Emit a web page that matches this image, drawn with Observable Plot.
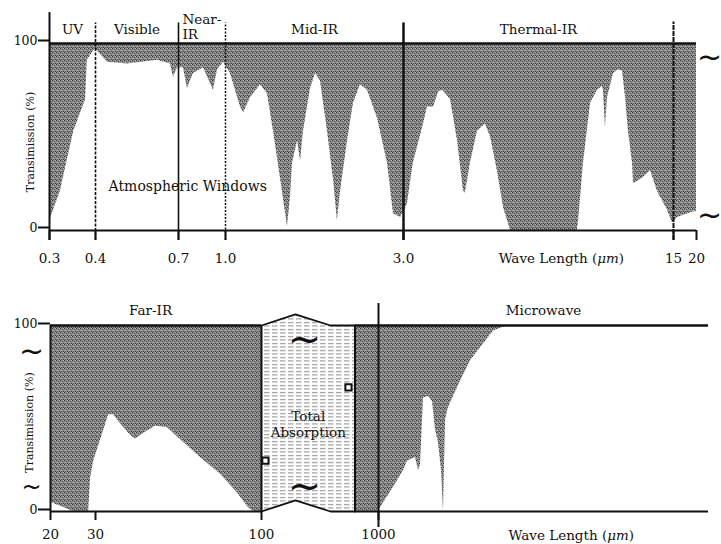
<!DOCTYPE html>
<html><head><meta charset="utf-8">
<script src="https://cdn.jsdelivr.net/npm/d3@7"></script>
<script src="https://cdn.jsdelivr.net/npm/@observablehq/plot@0.6"></script>
<style>
body{margin:0;background:#fff;}
#chart{width:721px;height:544px;position:relative;overflow:hidden;}
#chart svg{display:block;}
</style></head><body>
<svg width="0" height="0" style="position:absolute">
<defs>
<pattern id="stipple" width="4" height="4" patternUnits="userSpaceOnUse">
<rect width="4" height="4" fill="#8a8a8a"/>
<rect x="0" y="0" width="1" height="1" fill="#333"/>
<rect x="2" y="1" width="1" height="1" fill="#4a4a4a"/>
<rect x="3" y="3" width="1" height="1" fill="#3c3c3c"/>
<rect x="1" y="3" width="1" height="1" fill="#555"/>
<rect x="1" y="2" width="1" height="1" fill="#c4c4c4"/>
<rect x="3" y="0" width="1" height="1" fill="#b4b4b4"/>
</pattern>
<pattern id="hatch" width="8" height="3.5" patternUnits="userSpaceOnUse">
<rect width="8" height="3.5" fill="#fff"/>
<line x1="0" y1="1.5" x2="5.5" y2="1.5" stroke="#888" stroke-width="1"/>
</pattern>
</defs></svg>
<div id="chart"></div>
<script>
// ---- Top panel data: wavelength (µm) vs transmission (%) ----
const topWavelength = [0.300,0.321,0.349,0.376,0.380,0.395,0.400,0.434,0.496,0.608,0.663,0.677,0.695,0.727,0.749,0.784,0.846,0.913,0.941,0.985,1.031,1.097,1.118,1.167,1.241,1.296,1.345,1.404,1.466,1.494,1.512,1.560,1.589,1.618,1.690,1.743,1.797,1.877,1.948,1.996,2.034,2.124,2.203,2.301,2.402,2.555,2.718,2.820,2.945,3.04,3.07,3.18,3.38,3.46,3.59,3.70,3.79,3.97,4.14,4.29,4.34,4.47,4.66,4.89,5.04,5.25,5.45,5.68,8.45,8.51,8.77,9.15,9.53,9.82,9.88,10.00,10.12,10.49,10.81,11.07,11.27,11.47,11.75,11.82,12.47,13.08,13.63,14.47,14.91,15.77,19.26,20];
const topTransmission = [5,21,53,70,91,96,97,90,89,91,89,82,87,87,76,84,87,75,86,90,84,66,63,71,78,73,53,28,2,18,36,48,37,53,76,84,80,53,27,5,21,48,68,78,75,60,36,9,7,12,14,36,57,66,66,74,75,70,48,21,20,36,53,57,50,32,12,0,0,4,36,68,75,77,75,55,71,84,86,85,71,53,36,25,28,32,21,11,4,7,10,10];
const topTickValues = [0.3,0.4,0.7,1,3,15,20];
const topTickLabels = ["0.3","0.4","0.7","1.0","3.0","15","20"];
const topBandNames = ["UV","Visible","Near-\nIR","Mid-IR","Thermal-IR"];
const topBandEdges = [0.3,0.4,0.7,1,3,15];

// ---- Bottom panel data ----
const farWavelength = [20,24.6,28.2,28.7,29.5,31.6,33.0,34.2,36.0,38.7,40.1,42.5,46.4,50.6,54.4,64.2,74.3,84.0,91.0,94.4,100];
const farTransmission = [5,0,0,18,27,42,52,52,47,41,39,42,46,45,40,29,20,10,2,0,0];
const microWavelength = [630,1000,1028,1233,1418,1499,1676,1748,1797,1874,2009,2125,2215,2310,2409,2477,2547,2656,3141,3611,4152,4977,6050,100000];
const microTransmission = [0,0,2,13,22,27,29,22,25,61,62,59,44,37,22,0,49,56,70,81,88,97,100,100];
const boxWavelength = [100,195,389,630];
const boxTop = [100,106,100,100];
const boxBottom = [0,6,0,0];
const bottomTickValues = [20,30,100,1000];
const bottomTickLabels = ["20","30","100","1000"];
const bottomDomain = [20,30,100,1000,100000];
const bottomBandNames = ["Far-IR","Microwave"];
const bottomBandEdges = [20,100,1000,100000];

const yTicks = [0,100];
const yLabel = "Transimission (%)";
const xLabel = "Wave Length (μm)";

const FONT = "'DejaVu Serif', serif";
const INK = "#111";

const topChart = Plot.plot({
  width: 721, height: 272,
  marginLeft: 49, marginRight: 25, marginTop: 43, marginBottom: 42,
  style: {fontFamily: FONT, fontSize: "13.5px", background: "white", color: INK},
  x: {type: "log", domain: topTickValues, range: [49,95,178,225,403,673,696]},
  y: {domain: [0,100]},
  marks: [
    Plot.areaY(topWavelength, {x: d => d, y1: (d,i) => topTransmission[i], y2: 100, fill: "url(#stipple)"}),
    Plot.ruleY([100], {x1: 0.3, x2: 20, stroke: INK, strokeWidth: 2.5}),
    Plot.ruleY([0], {x1: 0.3, x2: 20, stroke: INK, strokeWidth: 2}),
    Plot.ruleX([topBandEdges[0]], {y1: -5.3, y2: 116.5, stroke: INK, strokeWidth: 2}),
    Plot.ruleX([topBandEdges[1]], {y1: -5.3, y2: 111, stroke: INK, strokeWidth: 1.6, strokeDasharray: "3,1.5"}),
    Plot.ruleX([topBandEdges[2]], {y1: -5.3, y2: 111, stroke: INK, strokeWidth: 1.6}),
    Plot.ruleX([topBandEdges[3]], {y1: -5.3, y2: 111, stroke: INK, strokeWidth: 1.5, strokeDasharray: "2,1.5"}),
    Plot.ruleX([topBandEdges[4]], {y1: -5.3, y2: 111, stroke: INK, strokeWidth: 2.5}),
    Plot.ruleX([topBandEdges[5]], {y1: -5.3, y2: 111.5, stroke: INK, strokeWidth: 2, strokeDasharray: "5,1"}),
    Plot.text(topBandNames.filter((d,i) => i !== 2), {
      x: (d) => { const i = topBandNames.indexOf(d); return Math.sqrt(topBandEdges[i]*topBandEdges[i+1]); },
      frameAnchor: "top", lineAnchor: "middle", dy: -14, fill: INK, fontSize: 13.5
    }),
    Plot.text([topBandNames[2]], {x: topBandEdges[2], frameAnchor: "top", textAnchor: "start", lineAnchor: "middle", dx: 4, dy: -17, lineHeight: 1.12, fill: INK, fontSize: 13.5}),
    Plot.text(["Atmospheric Windows"], {x: 0.437, y: 23.5, textAnchor: "start", fill: INK, fontSize: 14}),
    Plot.text(topTickLabels, {x: (d,i) => topTickValues[i], frameAnchor: "bottom", lineAnchor: "middle", dy: 28, fill: INK, fontSize: 13.5}),
    Plot.text([xLabel], {x: 5.29, frameAnchor: "bottom", textAnchor: "start", lineAnchor: "middle", dy: 28, fill: INK, fontSize: 13.5}),
    Plot.text([yLabel], {frameAnchor: "left", textAnchor: "middle", rotate: -90, dx: -19, dy: 5, fill: INK, fontSize: 11}),
    Plot.text(["~","~"], {x: 20, y: [92.5, 8], dx: 13, fontFamily: "DejaVu Sans", fontSize: 30, fill: INK}),
    Plot.axisX({ticks: topTickValues, tickFormat: () => "", tickSize: 10, strokeWidth: 2, label: null}),
    Plot.axisY({ticks: yTicks, tickSize: 11, tickPadding: 1, dy: -3, strokeWidth: 2, fontSize: 12.5, label: null, fill: INK})
  ]
});

const bottomChart = Plot.plot({
  width: 721, height: 272,
  marginLeft: 50, marginRight: 13, marginTop: 53, marginBottom: 33,
  style: {fontFamily: FONT, fontSize: "13.5px", background: "white", color: INK},
  x: {type: "log", domain: bottomDomain, range: [50,95,261,378,708]},
  y: {domain: [0,100]},
  marks: [
    Plot.areaY(farWavelength, {x: d => d, y1: (d,i) => farTransmission[i], y2: 100, fill: "url(#stipple)"}),
    Plot.areaY(microWavelength, {x: d => d, y1: (d,i) => microTransmission[i], y2: 100, fill: "url(#stipple)"}),
    Plot.areaY(boxWavelength, {x: d => d, y1: (d,i) => boxBottom[i], y2: (d,i) => boxTop[i], fill: "url(#hatch)"}),
    Plot.line(boxWavelength, {x: d => d, y: (d,i) => boxTop[i], stroke: INK, strokeWidth: 1.8}),
    Plot.line(boxWavelength, {x: d => d, y: (d,i) => boxBottom[i], stroke: INK, strokeWidth: 1.8}),
    Plot.ruleY([100], {x1: 20, x2: 100, stroke: INK, strokeWidth: 2.5}),
    Plot.ruleY([100], {x1: 630, x2: 100000, stroke: INK, strokeWidth: 2.5}),
    Plot.ruleY([0], {x1: 20, x2: 100, stroke: INK, strokeWidth: 2}),
    Plot.ruleY([0], {x1: 630, x2: 100000, stroke: INK, strokeWidth: 2}),
    Plot.ruleX([20], {y1: 0, y2: 100, stroke: INK, strokeWidth: 2}),
    Plot.ruleX([100], {y1: 0, y2: 100, stroke: INK, strokeWidth: 2}),
    Plot.ruleX([630], {y1: 0, y2: 100, stroke: INK, strokeWidth: 2}),
    Plot.ruleX([1000], {y1: -8.6, y2: 111.8, stroke: INK, strokeWidth: 2}),
    Plot.dot([[108, 27.4], [554, 66.7]], {x: "0", y: "1", symbol: "square", r: 3.5, fill: "white", stroke: INK, strokeWidth: 2}),
    Plot.text(["~","~"], {x: 233, y: [92, 13], fontFamily: "DejaVu Sans", fontSize: 40, fill: INK}),
    Plot.text(["Total\nAbsorption"], {x: 251, y: 47, lineHeight: 1.15, fill: INK, fontSize: 13.5}),
    Plot.text(bottomBandNames, {
      x: (d,i) => i === 0 ? Math.sqrt(bottomBandEdges[0]*bottomBandEdges[1]) : Math.sqrt(bottomBandEdges[2]*bottomBandEdges[3]),
      frameAnchor: "top", lineAnchor: "middle", dy: -15, fill: INK, fontSize: 13.5
    }),
    Plot.text(bottomTickLabels, {x: (d,i) => bottomTickValues[i], frameAnchor: "bottom", lineAnchor: "middle", dy: 23, fill: INK, fontSize: 13.5}),
    Plot.text([xLabel], {x: 6140, frameAnchor: "bottom", textAnchor: "start", lineAnchor: "middle", dy: 24, fill: INK, fontSize: 13.5}),
    Plot.text([yLabel], {frameAnchor: "left", textAnchor: "middle", rotate: -90, dx: -21, dy: 4, fill: INK, fontSize: 11}),
    Plot.text(["~"], {x: 20, y: 86, dx: -19, fontFamily: "DejaVu Sans", fontSize: 30, fill: INK}),
    Plot.text(["~"], {x: 20, y: 13, dx: -19, fontFamily: "DejaVu Sans", fontSize: 24, fill: INK}),
    Plot.axisX({ticks: bottomTickValues, tickFormat: () => "", tickSize: 9, strokeWidth: 2, label: null}),
    Plot.axisY({ticks: yTicks, tickSize: 12, tickPadding: 1, dy: -2, strokeWidth: 2, fontSize: 12.5, label: null, fill: INK})
  ]
});

const chart = document.getElementById("chart");
chart.append(topChart, bottomChart);

// italic µm
d3.select(chart).selectAll("text").filter(function() { return this.textContent === xLabel; }).each(function() {
  const t = d3.select(this);
  const parts = xLabel.split("μm");
  t.text(null);
  t.append("tspan").text(parts[0]);
  t.append("tspan").attr("font-style", "italic").text("μm");
  t.append("tspan").text(parts[1]);
});
</script>
</body></html>
